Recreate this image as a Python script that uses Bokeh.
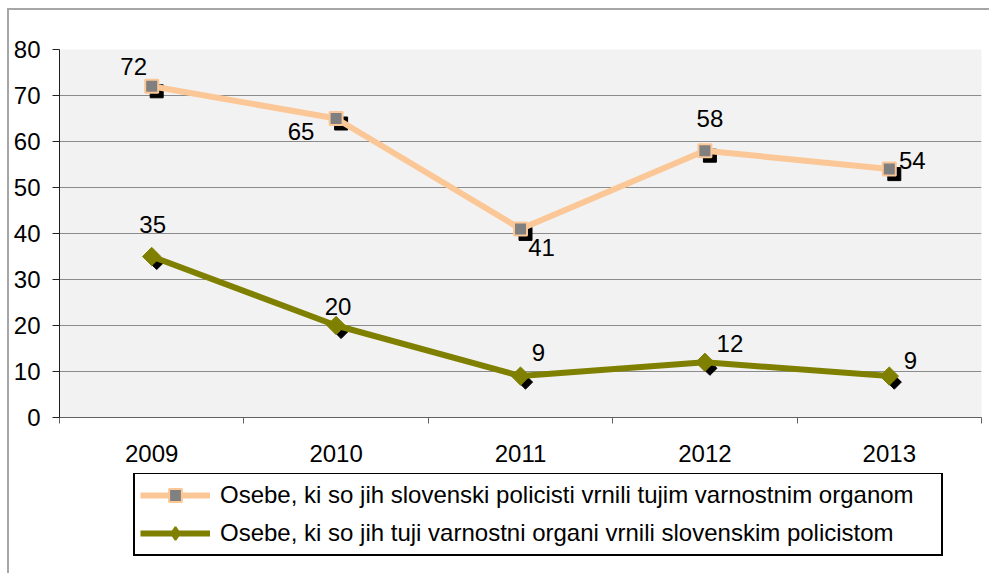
from bokeh.plotting import figure
from bokeh.layouts import column
from bokeh.models import (ColumnDataSource, FixedTicker, Legend, LegendItem,
                          Range1d)
from bokeh.core.properties import value
from bokeh.embed import file_html
from bokeh.resources import INLINE
import math

# ---------------- data ----------------
years = ["2009", "2010", "2011", "2012", "2013"]
returned_by_slovene_police = [72, 65, 41, 58, 54]
returned_by_foreign_organs = [35, 20, 9, 12, 9]
y_ticks = [0, 10, 20, 30, 40, 50, 60, 70, 80]
label_series1 = "Osebe, ki so jih slovenski policisti vrnili tujim varnostnim organom"
label_series2 = "Osebe, ki so jih tuji varnostni organi vrnili slovenskim policistom"

# ---------------- styling ----------------
FONT = "Liberation Sans"
FS = "24px"
PEACH = "#FBC797"
OLIVE = "#808000"
GRID = "#8C8C8C"

# data label pixel offsets (screen, y down)
off1_x = [-18, -35, 21, 5, 23]
off1_y = [-20, 13, 19, -32, -9]
off2_x = [1, 2, 18, 25, 21]
off2_y = [-32, -19, -24, -19, -16]

n = len(years)
xs = [i + 0.5 for i in range(n)]

W, H1, H2 = 980, 463, 100
ML, MR, MT, MB = 50, 8, 39, 56
frame_w = W - ML - MR
frame_h = H1 - MT - MB
px_x = frame_w / n
px_y = frame_h / (y_ticks[-1] - y_ticks[0])
# shadow offsets in data units (about 5 px right, 5 px down)
sdx = 5 / px_x
sdy = 5 / px_y

p = figure(width=W, height=H1, output_backend="svg", toolbar_location=None,
           x_range=Range1d(0, n), y_range=Range1d(y_ticks[0], y_ticks[-1]),
           min_border_left=ML, min_border_right=MR, min_border_top=MT,
           min_border_bottom=MB)
p.background_fill_color = "#F2F2F2"
p.border_fill_color = "white"
p.outline_line_color = None

# axes
p.xaxis.ticker = FixedTicker(ticks=xs, minor_ticks=list(range(n + 1)))
p.xaxis.major_label_overrides = {x: y for x, y in zip(xs, years)}
p.xaxis.major_tick_out = 0
p.xaxis.major_tick_in = 0
p.xaxis.minor_tick_out = 6
p.xaxis.minor_tick_in = 0
p.xaxis.minor_tick_line_color = "#606060"
p.xaxis.axis_line_color = "#606060"
p.xaxis.major_label_standoff = 21
p.yaxis.ticker = FixedTicker(ticks=y_ticks)
p.yaxis.major_tick_out = 7
p.yaxis.major_tick_in = 0
p.yaxis.minor_tick_line_color = None
p.yaxis.axis_line_color = "#202020"
p.yaxis.major_tick_line_color = "#202020"
p.yaxis.major_label_standoff = 12
for ax in (p.xaxis, p.yaxis):
    ax.major_label_text_font = FONT
    ax.major_label_text_font_size = FS
    ax.major_label_text_color = "black"
p.xgrid.grid_line_color = None
p.ygrid.grid_line_color = GRID
p.ygrid.grid_line_width = 1

src1 = ColumnDataSource(dict(x=xs, y=returned_by_slovene_police,
                             sx=[v + sdx for v in xs],
                             sy=[v - sdy for v in returned_by_slovene_police],
                             t=[str(v) for v in returned_by_slovene_police],
                             ox=off1_x, oy=off1_y))
src2 = ColumnDataSource(dict(x=xs, y=returned_by_foreign_organs,
                             sx=[v + sdx for v in xs],
                             sy=[v - 1.2 * sdy for v in returned_by_foreign_organs],
                             t=[str(v) for v in returned_by_foreign_organs],
                             ox=off2_x, oy=off2_y))

line1_kw = dict(line_color=PEACH, line_width=6)
mark1_kw = dict(marker="square", size=13, fill_color="#808080",
                line_color=PEACH, line_width=2)
line2_kw = dict(line_color=OLIVE, line_width=6)
mark2_kw = dict(marker="square", size=13, angle=math.pi / 4,
                fill_color=OLIVE, line_color=OLIVE)

# shadows
p.scatter("sx", "sy", source=src1, marker="square", size=13,
          fill_color="black", line_color="black")
p.scatter("sx", "sy", source=src2, marker="square", size=10, angle=math.pi / 4,
          fill_color="black", line_color="black")

# lines + markers
p.line("x", "y", source=src1, **line1_kw)
p.scatter("x", "y", source=src1, **mark1_kw)
p.line("x", "y", source=src2, **line2_kw)
p.scatter("x", "y", source=src2, **mark2_kw)

# data labels
for s in (src1, src2):
    p.text("x", "y", text="t", source=s, x_offset="ox", y_offset="oy",
           text_font=value(FONT), text_font_size=FS, text_color="black",
           text_align="center", text_baseline="middle")

# ---------------- legend panel ----------------
# same series drawn again, but their ranges keep them out of view: only the
# legend box of this panel is visible
pl = figure(width=W, height=H2, output_backend="svg", toolbar_location=None,
            x_range=Range1d(-20, -10), y_range=Range1d(-200, -100),
            x_axis_type=None, y_axis_type=None,
            min_border_left=0, min_border_right=0, min_border_top=0,
            min_border_bottom=0)
pl.outline_line_color = None
pl.background_fill_color = "white"
pl.border_fill_color = "white"
pl.xgrid.visible = False
pl.ygrid.visible = False
dl1 = pl.line("x", "y", source=src1, **line1_kw)
dm1 = pl.scatter("x", "y", source=src1, **mark1_kw)
dl2 = pl.line("x", "y", source=src2, **line2_kw)
dm2 = pl.scatter("x", "y", source=src2, marker="diamond", size=13,
                 fill_color=OLIVE, line_color=OLIVE, line_width=2)

legend = Legend(items=[LegendItem(label=label_series1, renderers=[dl1, dm1], index=0),
                       LegendItem(label=label_series2, renderers=[dl2, dm2], index=0)],
                location=(74, 17), orientation="vertical",
                border_line_color="black", border_line_width=2,
                border_line_alpha=1,
                background_fill_color="white", background_fill_alpha=1,
                label_text_font=FONT, label_text_font_size=FS,
                label_text_color="black",
                glyph_width=70, glyph_height=32, label_height=20,
                label_width=716,
                label_standoff=10, spacing=6, padding=5, margin=0)
pl.add_layout(legend, "center")

layout = column(p, pl, spacing=0,
                styles={"margin-left": "7px", "margin-top": "8px",
                        "border-left": "2px solid #A6A6A6",
                        "border-top": "2px solid #A6A6A6"})

open("out.html", "w").write(file_html(layout, INLINE))
